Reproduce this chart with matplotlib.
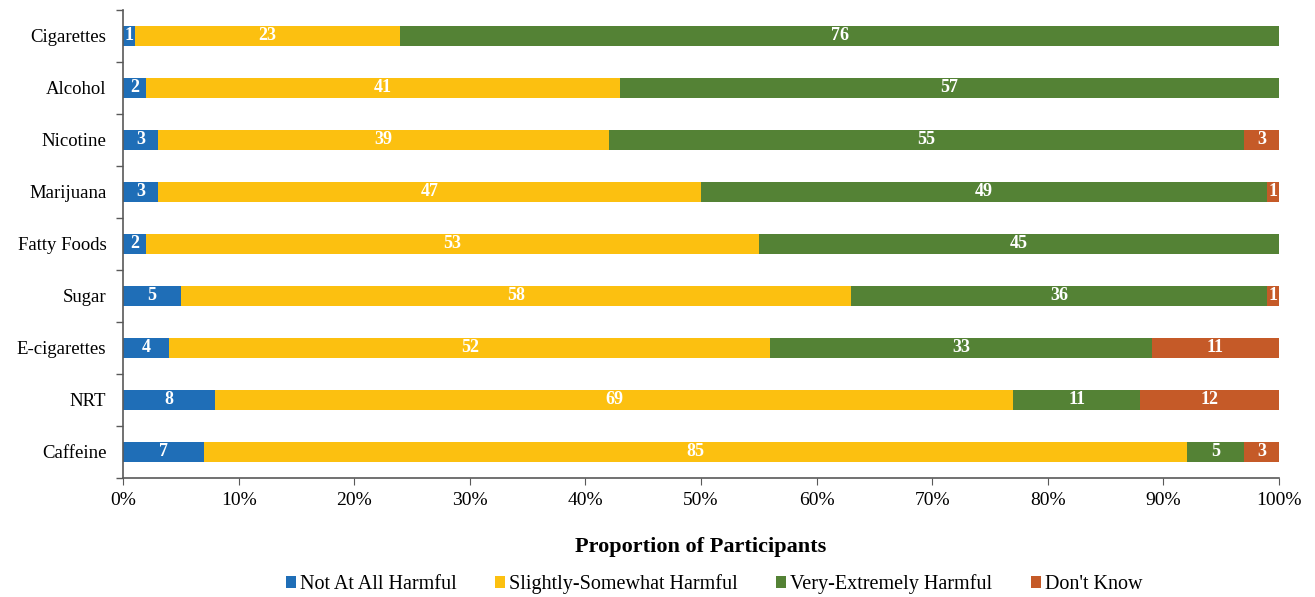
import matplotlib
matplotlib.use("Agg")
import matplotlib.pyplot as plt
import numpy as np
from matplotlib.ticker import FixedLocator, PercentFormatter

categories = ["Cigarettes", "Alcohol", "Nicotine", "Marijuana", "Fatty Foods",
              "Sugar", "E-cigarettes", "NRT", "Caffeine"]
not_at_all = [1, 2, 3, 3, 2, 5, 4, 8, 7]
slightly = [23, 41, 39, 47, 53, 58, 52, 69, 85]
very = [76, 57, 55, 49, 45, 36, 33, 11, 5]
dont_know = [0, 0, 3, 1, 0, 1, 11, 12, 3]
series_names = ["Not At All Harmful", "Slightly-Somewhat Harmful",
                "Very-Extremely Harmful", "Don't Know"]
colors = ["#1F6EB7", "#FCC010", "#548235", "#C55A28"]

plt.rcParams['font.family'] = ['Liberation Serif', 'DejaVu Serif']

fig = plt.figure(figsize=(13.15, 5.97), dpi=100)
ax = fig.add_axes([123/1315, 1 - 478/597, (1279-123)/1315, (478-10)/597])

y = np.arange(len(categories))
left = np.zeros(len(categories))
for vals, name, c in zip([not_at_all, slightly, very, dont_know], series_names, colors):
    vals = np.array(vals, dtype=float)
    ax.barh(y, vals, left=left, height=0.4, color=c, label=name)
    for yi, (l, v) in enumerate(zip(left, vals)):
        if v > 0:
            ax.text(l + v / 2, yi, f"{int(v)}", ha="center", va="center",
                    color="white", fontsize=13, fontweight="bold")
    left += vals

ax.set_xlim(0, 100)
ax.set_ylim(len(categories) - 0.5, -0.5)
ax.set_yticks(y)
ax.set_yticklabels(categories, fontsize=13.5)
ax.yaxis.set_minor_locator(FixedLocator(np.arange(-0.5, len(categories), 1)))
ax.tick_params(axis='y', which='major', length=0, pad=12)
ax.tick_params(axis='y', which='minor', length=5, color="#595959", width=1)
ax.set_xticks(np.arange(0, 101, 10))
ax.xaxis.set_major_formatter(PercentFormatter(decimals=0))
ax.tick_params(axis='x', length=5, color="#595959", labelsize=14, pad=5)
for s in ["top", "right"]:
    ax.spines[s].set_visible(False)
for s in ["left", "bottom"]:
    ax.spines[s].set_color("#595959")
    ax.spines[s].set_linewidth(1.2)

ax.set_xlabel("Proportion of Participants", fontsize=16, fontweight="bold", labelpad=20)

fig.legend(*ax.get_legend_handles_labels(), loc="center", bbox_to_anchor=(714/1315, 1 - 584/597),
           ncol=4, frameon=False, fontsize=14.5, handlelength=0.5, handleheight=0.5,
           handletextpad=0.2, columnspacing=1.9)

fig.savefig("out.png", dpi=100)
